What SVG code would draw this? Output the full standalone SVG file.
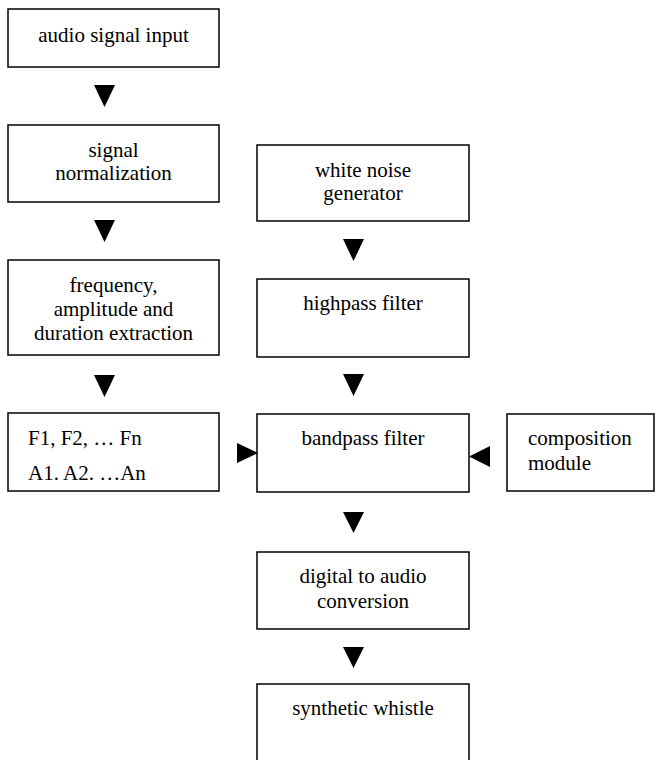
<svg xmlns="http://www.w3.org/2000/svg" width="655" height="760" viewBox="0 0 655 760">
<style>
.box{fill:#fff;stroke:#000;stroke-width:1.5}
.t{font-family:"Liberation Serif","Times New Roman",serif;font-size:21px;fill:#000}
.c{text-anchor:middle}
.arr{fill:#000;stroke:none}
</style>
<rect width="655" height="760" fill="#fff"/>
<g id="audio-input"><rect class="box" x="8" y="9" width="211" height="58"/><text class="t c" x="113.5" y="42">audio signal input</text></g>
<g id="normalization"><rect class="box" x="8" y="125" width="211" height="77"/><text class="t c" x="113.5" y="157">signal</text><text class="t c" x="113.5" y="180">normalization</text></g>
<g id="extraction"><rect class="box" x="8" y="260" width="211" height="95"/><text class="t c" x="113.5" y="292">frequency,</text><text class="t c" x="113.5" y="316">amplitude and</text><text class="t c" x="113.5" y="340">duration extraction</text></g>
<g id="params"><rect class="box" x="8" y="413" width="211" height="78"/><text class="t" x="28" y="445">F1, F2, … Fn</text><text class="t" x="28" y="480">A1. A2. …An</text></g>
<g id="white-noise"><rect class="box" x="257" y="145" width="212" height="76"/><text class="t c" x="363" y="177">white noise</text><text class="t c" x="363" y="200">generator</text></g>
<g id="highpass"><rect class="box" x="257" y="279" width="212" height="78"/><text class="t c" x="363" y="310">highpass filter</text></g>
<g id="bandpass"><rect class="box" x="257" y="414" width="212" height="78"/><text class="t c" x="363" y="445">bandpass filter</text></g>
<g id="composition"><rect class="box" x="507" y="414" width="147" height="77"/><text class="t" x="528" y="445">composition</text><text class="t" x="528" y="470">module</text></g>
<g id="dac"><rect class="box" x="257" y="552" width="212" height="77"/><text class="t c" x="363" y="583">digital to audio</text><text class="t c" x="363" y="608">conversion</text></g>
<g id="whistle"><rect class="box" x="257" y="684" width="212" height="90"/><text class="t c" x="363" y="715">synthetic whistle</text></g>
<g id="connectors">
<polygon class="arr" points="94,85 115,85 104.5,107"/>
<polygon class="arr" points="94,220 115,220 104.5,242"/>
<polygon class="arr" points="94,375 115,375 104.5,397"/>
<polygon class="arr" points="343,239 364,239 353.5,261"/>
<polygon class="arr" points="343,374 364,374 353.5,396"/>
<polygon class="arr" points="343,512 364,512 353.5,533"/>
<polygon class="arr" points="343,647 364,647 353.5,668"/>
<polygon class="arr" points="237,443 237,463 258,453"/>
<polygon class="arr" points="490,446 490,467 469,456.5"/>
</g>
</svg>
